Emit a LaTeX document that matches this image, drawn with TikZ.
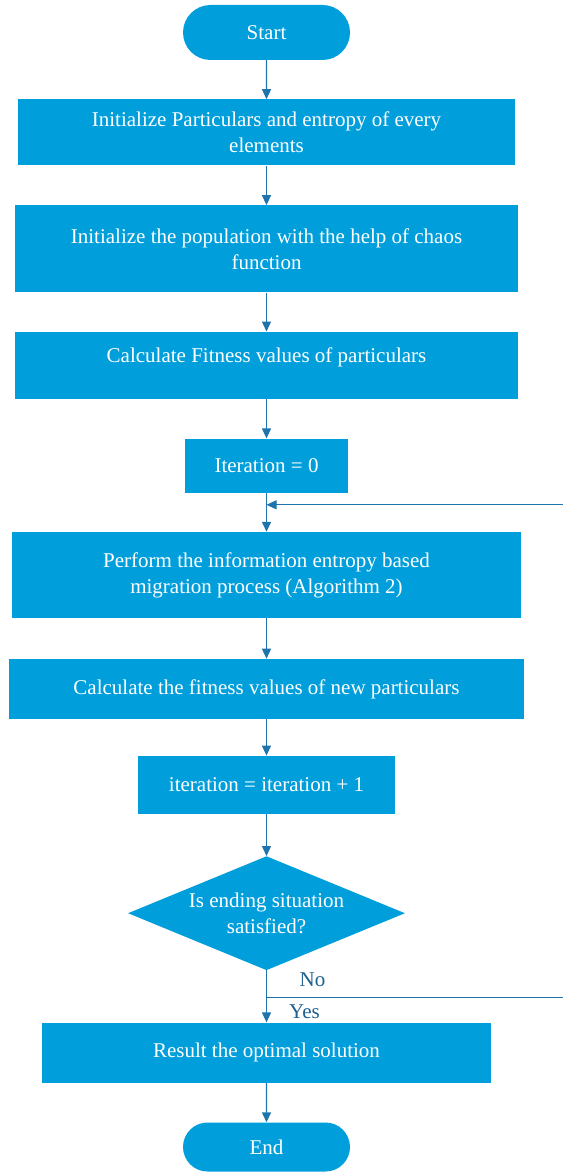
\documentclass[tikz,border=0pt]{standalone}
\usepackage{fontspec}
\setmainfont{Liberation Serif}
\usetikzlibrary{arrows.meta,positioning,shapes.geometric,shapes.misc}
\definecolor{fcfill}{HTML}{009FDC}
\definecolor{fcline}{HTML}{1F74AE}
\definecolor{fclabel}{HTML}{1D5F8F}
\newcommand{\fcfont}{\fontsize{21}{26}\selectfont}
\tikzset{
  procbox/.style={fill=fcfill,draw=none,text=white,align=center,font=\fcfont,inner sep=0pt},
  termbox/.style={procbox,rounded rectangle,minimum width=167pt,minimum height=55pt},
  decide/.style={procbox,diamond,aspect=2.45,minimum width=277pt,minimum height=114pt},
  flow/.style={-{Triangle[length=10pt,width=9pt]},line width=1.4pt,draw=fcline},
  loopline/.style={line width=1pt,draw=fcline},
  branch/.style={font=\fcfont,text=fclabel}
}

\begin{document}
\begin{tikzpicture}
    \useasboundingbox (0,0) rectangle (563pt,-1174pt);
    \node[termbox] (start) at (266.5pt,-32.5pt) {Start};
    \node[procbox,below=39pt of start,minimum width=497pt,minimum height=66pt] (init)
      {Initialize Particulars and entropy of every\\elements};
    \node[procbox,below=39.5pt of init,minimum width=503pt,minimum height=87pt] (chaos)
      {Initialize the population with the help of chaos\\function};
    \node[procbox,below=39pt of chaos,minimum width=503pt,minimum height=67pt,text depth=21pt] (fitness)
      {Calculate Fitness values of particulars};
    \node[procbox,below=39.5pt of fitness,minimum width=163pt,minimum height=54pt] (iterzero)
      {Iteration = 0};
    \node[procbox,below=39pt of iterzero,minimum width=509pt,minimum height=86pt] (migrate)
      {Perform the information entropy based\\migration process (Algorithm 2)};
    \node[procbox,below=40.5pt of migrate,minimum width=515pt,minimum height=60pt] (newfit)
      {Calculate the fitness values of new particulars};
    \node[procbox,below=36.5pt of newfit,minimum width=257pt,minimum height=58pt] (iterinc)
      {iteration = iteration + 1};
    \node[decide,below=42pt of iterinc] (ending)
      {Is ending situation\\satisfied?};
    \node[procbox,below=52pt of ending,minimum width=449pt,minimum height=60pt] (result)
      {Result the optimal solution};
    \node[termbox,below=39.5pt of result,minimum height=49pt] (end) {End};
    \draw[flow] (start)--(init);
    \draw[flow] (init)--(chaos);
    \draw[flow] (chaos)--(fitness);
    \draw[flow] (fitness)--(iterzero);
    \draw[flow] (iterzero)--(migrate);
    \draw[flow] (migrate)--(newfit);
    \draw[flow] (newfit)--(iterinc);
    \draw[flow] (iterinc)--(ending);
    \draw[flow] (ending)--(result);
    \draw[flow] (result)--(end);
    % loop back from the "No" branch
    \coordinate[below=27pt of ending.south] (nofork);
    \coordinate[right=296.5pt of nofork] (noexit);
    \coordinate[below=12pt of iterzero.south] (loopjoin);
    \coordinate[right=296.5pt of loopjoin] (loopin);
    \draw[loopline] (nofork)--(noexit);
    \draw[flow,line width=1pt] (loopin)--(loopjoin);
    \node[branch] (nolabel) at ([xshift=46pt,yshift=18pt]nofork) {No};
    \node[branch] (yeslabel) at ([xshift=38pt,yshift=-14pt]nofork) {Yes};
  \end{tikzpicture}
\end{document}
